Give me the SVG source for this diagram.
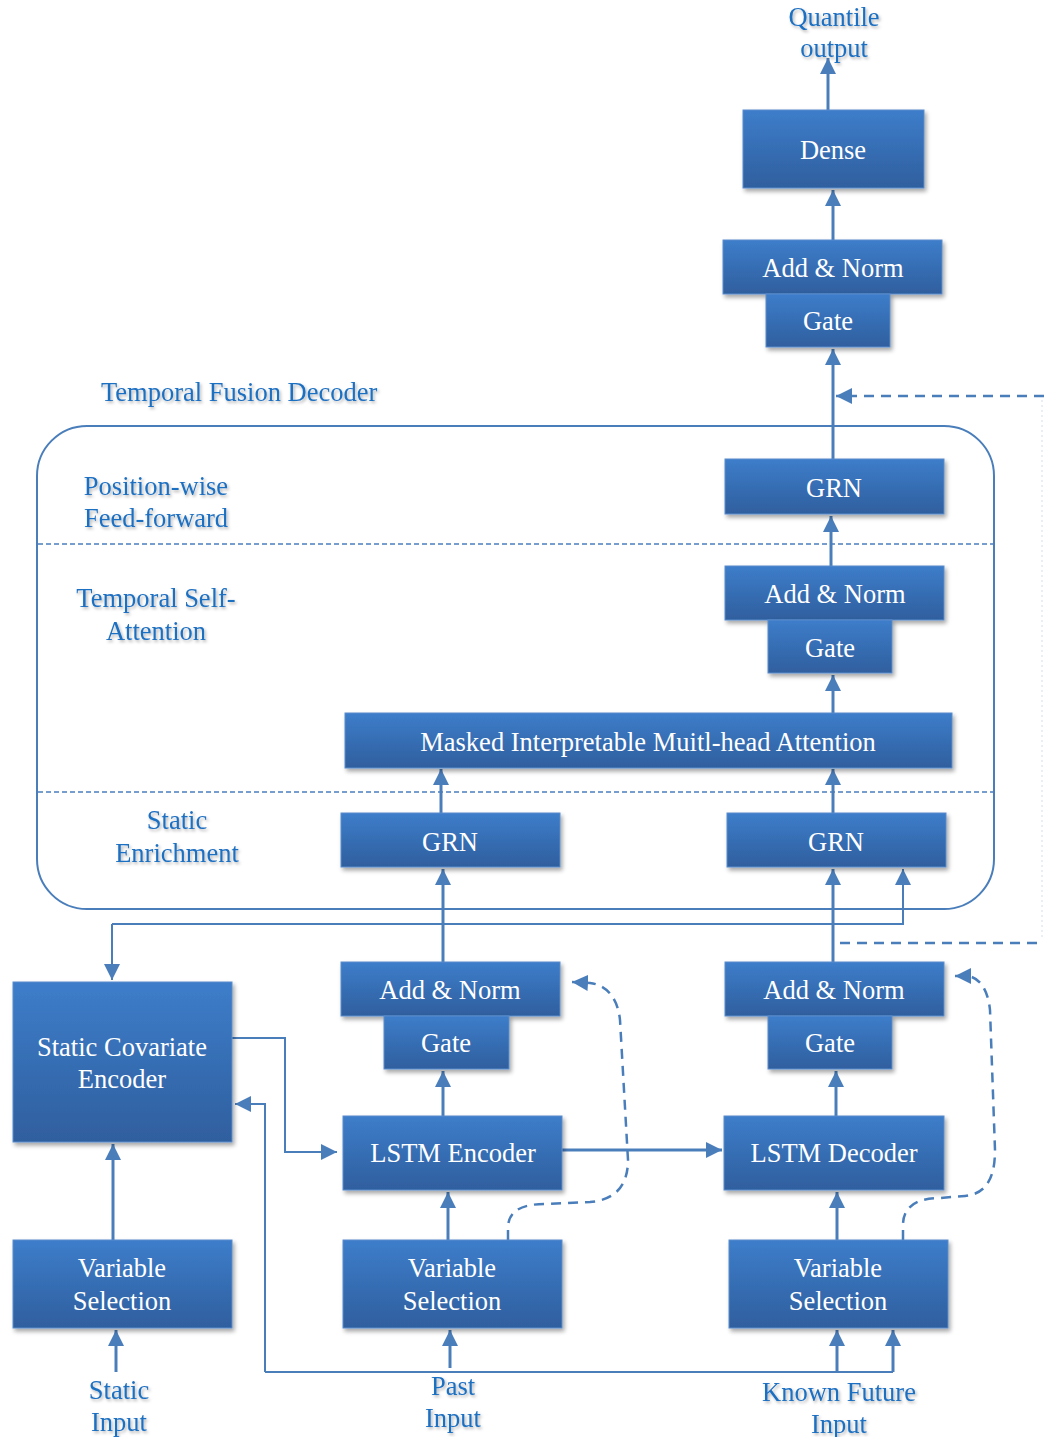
<svg xmlns="http://www.w3.org/2000/svg" width="1044" height="1437" viewBox="0 0 1044 1437">
<defs>
<linearGradient id="bg" x1="0" y1="0" x2="0" y2="1">
<stop offset="0" stop-color="#3d7dca"/>
<stop offset="1" stop-color="#2f5f9e"/>
</linearGradient>
<filter id="sh" x="-10%" y="-10%" width="125%" height="135%">
<feDropShadow dx="2" dy="3" stdDeviation="2" flood-color="#000" flood-opacity="0.35"/>
</filter>
<filter id="tsh" x="-10%" y="-30%" width="125%" height="170%">
<feDropShadow dx="1.5" dy="2" stdDeviation="1.5" flood-color="#000" flood-opacity="0.3"/>
</filter>
<marker id="ah" markerUnits="userSpaceOnUse" markerWidth="16" markerHeight="16" refX="16" refY="8" orient="auto">
<path d="M0,0 L16,8 L0,16 z" fill="#4a7ebb"/>
</marker>
</defs>
<style>
.box{fill:url(#bg);stroke:#5a8ccc;stroke-width:1;filter:url(#sh)}
.bt{font-family:"Liberation Serif","Times New Roman",serif;font-size:26.5px;fill:#ffffff;text-anchor:middle}
.lb{font-family:"Liberation Serif","Times New Roman",serif;font-size:26.5px;fill:#1e6fc1;text-anchor:middle;filter:url(#tsh)}
.c{fill:none;stroke:#4a7ebb;stroke-width:3}
.a{fill:none;stroke:#4a7ebb;stroke-width:3;marker-end:url(#ah)}
.thin{fill:none;stroke:#4a7ebb;stroke-width:2}
.thina{fill:none;stroke:#4a7ebb;stroke-width:2;marker-end:url(#ah)}
.sep{fill:none;stroke:#4a7ebb;stroke-width:1.5;stroke-dasharray:5 3}
.dash{fill:none;stroke:#4a7ebb;stroke-width:2.5;stroke-dasharray:10 7}
.dasha{fill:none;stroke:#4a7ebb;stroke-width:2.5;stroke-dasharray:10 7;marker-end:url(#ah)}
</style>
<rect width="1044" height="1437" fill="#ffffff"/>

<g id="decoder-container">
<rect x="37" y="426" width="957" height="483" rx="50" ry="50" fill="none" stroke="#4a7ebb" stroke-width="2"/>
<line class="sep" x1="38" y1="544" x2="993" y2="544"/>
<line class="sep" x1="38" y1="792" x2="993" y2="792"/>
</g>

<g id="connectors">
<line class="a" x1="828" y1="110" x2="828" y2="58"/>
<line class="a" x1="833" y1="240" x2="833" y2="190"/>
<line class="a" x1="833" y1="460" x2="833" y2="349"/>
<line class="a" x1="831" y1="566" x2="831" y2="516"/>
<line class="a" x1="833" y1="713" x2="833" y2="675"/>
<line class="a" x1="441" y1="813" x2="441" y2="769"/>
<line class="a" x1="833" y1="813" x2="833" y2="769"/>
<line class="a" x1="443" y1="962" x2="443" y2="869"/>
<line class="a" x1="833" y1="962" x2="833" y2="869"/>
<path class="thina" d="M112,924 L903,924 L903,869"/>
<path class="thina" d="M112,924 L112,980"/>
<line class="a" x1="443" y1="1116" x2="443" y2="1071"/>
<line class="a" x1="836" y1="1116" x2="836" y2="1071"/>
<line class="a" x1="562" y1="1150" x2="722" y2="1150"/>
<path class="thina" d="M232,1038 L285,1038 L285,1152 L337,1152"/>
<path class="thina" d="M265,1372 L265,1104 L235,1104"/>
<line class="thin" x1="265" y1="1372" x2="893" y2="1372"/>
<line class="a" x1="113" y1="1240" x2="113" y2="1144"/>
<line class="a" x1="448" y1="1240" x2="448" y2="1192"/>
<line class="a" x1="837" y1="1240" x2="837" y2="1192"/>
<line class="a" x1="116" y1="1372" x2="116" y2="1330"/>
<line class="a" x1="450" y1="1368" x2="450" y2="1330"/>
<line class="a" x1="837" y1="1372" x2="837" y2="1330"/>
<line class="a" x1="893" y1="1372" x2="893" y2="1330"/>
<path class="dasha" d="M1044,396 L836,396"/>
<path class="dash" d="M840,943 L1044,943"/>
<line x1="1042" y1="400" x2="1042" y2="940" stroke="#d3ddee" stroke-width="1" stroke-dasharray="2 3"/>
<path class="dasha" d="M508,1240 L508,1228 C508,1212 520,1204 545,1204 L590,1202 C615,1200 628,1186 628,1160 L620,1020 C618,1000 608,985 590,983 L572,982"/>
<path class="dasha" d="M903,1240 L903,1225 C903,1208 915,1198 940,1198 L965,1196 C985,1194 995,1180 995,1150 L990,1010 C988,990 980,978 968,976 L955,976"/>
</g>

<g id="dense"><rect class="box" x="743" y="110" width="181" height="78"/><text class="bt" x="833" y="159">Dense</text></g>
<g id="addnorm-top"><rect class="box" x="723" y="240" width="219" height="54"/><text class="bt" x="833" y="277">Add &amp; Norm</text></g>
<g id="gate-top"><rect class="box" x="766" y="294" width="124" height="53"/><text class="bt" x="828" y="330">Gate</text></g>
<g id="grn-ff"><rect class="box" x="725" y="459" width="219" height="55"/><text class="bt" x="834" y="497">GRN</text></g>
<g id="addnorm-attn"><rect class="box" x="725" y="566" width="219" height="54"/><text class="bt" x="835" y="603">Add &amp; Norm</text></g>
<g id="gate-attn"><rect class="box" x="768" y="620" width="124" height="53"/><text class="bt" x="830" y="657">Gate</text></g>
<g id="attention"><rect class="box" x="345" y="713" width="607" height="55"/><text class="bt" x="648" y="751">Masked Interpretable Muitl-head Attention</text></g>
<g id="grn-left"><rect class="box" x="341" y="813" width="219" height="54"/><text class="bt" x="450" y="851">GRN</text></g>
<g id="grn-right"><rect class="box" x="727" y="813" width="219" height="54"/><text class="bt" x="836" y="851">GRN</text></g>
<g id="static-encoder"><rect class="box" x="13" y="982" width="219" height="160"/><text class="bt" x="122" y="1056">Static Covariate</text><text class="bt" x="122" y="1088">Encoder</text></g>
<g id="addnorm-enc"><rect class="box" x="341" y="962" width="219" height="54"/><text class="bt" x="450" y="999">Add &amp; Norm</text></g>
<g id="gate-enc"><rect class="box" x="384" y="1016" width="125" height="53"/><text class="bt" x="446" y="1052">Gate</text></g>
<g id="addnorm-dec"><rect class="box" x="725" y="962" width="219" height="54"/><text class="bt" x="834" y="999">Add &amp; Norm</text></g>
<g id="gate-dec"><rect class="box" x="768" y="1016" width="124" height="53"/><text class="bt" x="830" y="1052">Gate</text></g>
<g id="lstm-encoder"><rect class="box" x="343" y="1116" width="219" height="74"/><text class="bt" x="453" y="1162">LSTM Encoder</text></g>
<g id="lstm-decoder"><rect class="box" x="724" y="1116" width="220" height="74"/><text class="bt" x="834" y="1162">LSTM Decoder</text></g>
<g id="vs-static"><rect class="box" x="13" y="1240" width="219" height="88"/><text class="bt" x="122" y="1277">Variable</text><text class="bt" x="122" y="1310">Selection</text></g>
<g id="vs-past"><rect class="box" x="343" y="1240" width="219" height="88"/><text class="bt" x="452" y="1277">Variable</text><text class="bt" x="452" y="1310">Selection</text></g>
<g id="vs-future"><rect class="box" x="729" y="1240" width="219" height="88"/><text class="bt" x="838" y="1277">Variable</text><text class="bt" x="838" y="1310">Selection</text></g>

<g id="labels">
<text class="lb" x="834" y="26">Quantile</text>
<text class="lb" x="834" y="57">output</text>
<text class="lb" x="101" y="401" style="text-anchor:start">Temporal Fusion Decoder</text>
<text class="lb" x="156" y="495">Position-wise</text>
<text class="lb" x="156" y="527">Feed-forward</text>
<text class="lb" x="156" y="607">Temporal Self-</text>
<text class="lb" x="156" y="640">Attention</text>
<text class="lb" x="177" y="829">Static</text>
<text class="lb" x="177" y="862">Enrichment</text>
<text class="lb" x="119" y="1399">Static</text>
<text class="lb" x="119" y="1431">Input</text>
<text class="lb" x="453" y="1395">Past</text>
<text class="lb" x="453" y="1427">Input</text>
<text class="lb" x="839" y="1401">Known Future</text>
<text class="lb" x="839" y="1433">Input</text>
</g>
</svg>
